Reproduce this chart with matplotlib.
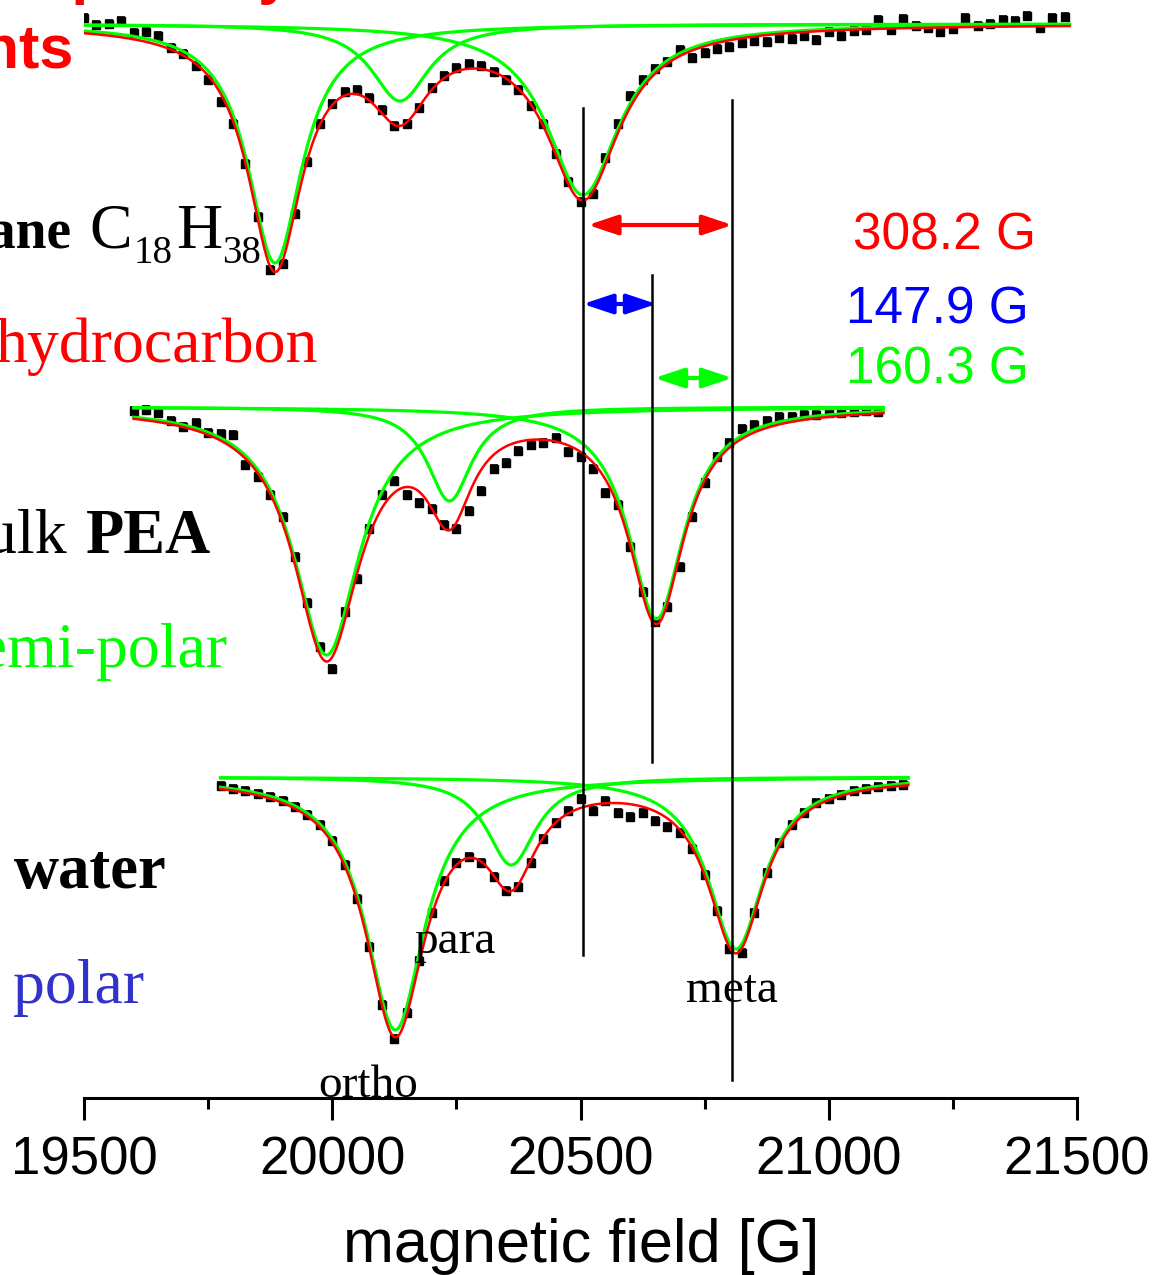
import numpy as np
import matplotlib
matplotlib.use('Agg')
import matplotlib.pyplot as plt
from matplotlib.ticker import MultipleLocator

plt.rcParams['font.family'] = ['Liberation Sans', 'DejaVu Sans']

# ---------------- data ----------------
# signal dip below baseline (arb. units), sampled every 25 G
hex_start = 19500
hex_dip = [-6, 1, 0, -3, 9, 8, 12, 24, 30, 42,
           56, 78, 100, 140, 193, 246, 240, 190, 138, 100,
           80, 68, 66, 74, 86, 102, 100, 84, 64, 52,
           44, 40, 42, 48, 56, 66, 82, 100, 130, 158,
           178, 170, 134, 100, 72, 56, 45, 38, 26, 34,
           29, 25, 23, 19, 17, 18, 14, 15, 12, 16,
           8, 12, 7, 6, -4, 6, -5, 2, 4, 8,
           5, -6, 2, 0, -4, -3, -8, 4, -6, -7]

pea_start = 19600
pea_dip = [4, 3, 6, 14, 20, 16, 26, 27, 28, 58,
           70, 88, 110, 150, 196, 240, 262, 205, 172, 122,
           88, 74, 88, 96, 102, 118, 122, 104, 84, 62,
           56, 44, 38, 36, 31, 45, 50, 62, 86, 98,
           140, 185, 215, 200, 160, 110, 76, 50, 36, 22,
           18, 14, 10, 10, 8, 8, 6, 6, 5, 4,
           5]

wat_start = 19775
wat_dip = [9, 12, 14, 17, 20, 24, 30, 38, 48, 64,
           88, 122, 170, 228, 262, 236, 184, 136, 104, 86,
           80, 86, 100, 114, 110, 86, 62, 46, 34, 22,
           34, 24, 36, 40, 36, 44, 50, 56, 72, 98,
           134, 172, 176, 136, 96, 66, 48, 36, 26, 22,
           18, 14, 12, 10, 9, 8]

step = 25
err = 4

# Lorentzian fit components: ortho, para, meta
hex_centers = [19884.7, 20136.5, 20505.0]
hex_depths = [239, 77, 171]
hex_hwhm = [66.5, 70.5, 88.6]

pea_centers = [19988.4, 20236.2, 20652.9]
pea_depths = [248, 94, 212]
pea_hwhm = [80.6, 54.4, 68.0]

wat_centers = [20127.0, 20360.6, 20813.2]
wat_depths = [253, 88, 172]
wat_hwhm = [72.5, 60.4, 68.5]

# baselines (vertical offsets of the three spectra)
baselines = [1074, 691, 321]

# reference lines at meta positions and splittings
line_fields = [20505, 20645, 20806]
line_spans = [(143, 990), (336, 823), (18, 998)]


def lorentz(b, c, depth, hwhm):
    return depth * hwhm ** 2 / ((b - c) ** 2 + hwhm ** 2)


fig = plt.figure(figsize=(11.67, 12.75), dpi=100)
W, H = 1167, 1275
ax = fig.add_axes([84 / W, 1 - 1098 / H, 993 / W, 1098 / H])


def fx(px):
    return px / W


def fy(py):
    return 1 - py / H


spectra = [
    (hex_start, hex_dip, hex_centers, hex_depths, hex_hwhm, baselines[0]),
    (pea_start, pea_dip, pea_centers, pea_depths, pea_hwhm, baselines[1]),
    (wat_start, wat_dip, wat_centers, wat_depths, wat_hwhm, baselines[2]),
]

for start, dip, cen, dep, hw, base in spectra:
    field = start + step * np.arange(len(dip))
    ax.errorbar(field, base - np.array(dip), yerr=err, fmt='s', color='k',
                ms=6.3, elinewidth=1.2, capsize=2.8, capthick=1.2, zorder=2)
    b = np.linspace(field[0], field[-1] + 10, 800)
    comps = [lorentz(b, c, a, w) for c, a, w in zip(cen, dep, hw)]
    for comp in comps:
        ax.plot(b, base - comp, color='#00ff00', lw=2.3, zorder=3)
    ax.plot(b, base - np.sum(comps, axis=0), color='#ff0000', lw=1.8, zorder=4)

for f, (y0, y1) in zip(line_fields, line_spans):
    ax.plot([f, f], [y0, y1], color='k', lw=1.8, zorder=5)

arrow_kw = dict(arrowstyle='<|-|>,head_length=1.8,head_width=0.6', lw=3,
                shrinkA=0, shrinkB=0)
ax.annotate('', xy=(line_fields[2], 873), xytext=(line_fields[0] + 10, 873),
            arrowprops=dict(color='#ff0000', **arrow_kw))
ax.annotate('', xy=(line_fields[1] + 8, 794), xytext=(line_fields[0], 794),
            arrowprops=dict(color='#0000ff', **arrow_kw))
ax.annotate('', xy=(line_fields[2], 720), xytext=(line_fields[1] + 4, 720),
            arrowprops=dict(color='#00ff00', **arrow_kw))

ax.set_xlim(19500, 21500)
ax.set_ylim(0, 1098)
for s in ['left', 'right', 'top']:
    ax.spines[s].set_visible(False)
ax.spines['bottom'].set_linewidth(2.2)
ax.set_yticks([])
ax.set_xticks([19500, 20000, 20500, 21000, 21500])
ax.xaxis.set_minor_locator(MultipleLocator(250))
ax.tick_params(axis='x', which='major', length=16, width=2.2, labelsize=38, pad=11)
ax.tick_params(axis='x', which='minor', length=8, width=2.2)

# right-hand splitting labels
fig.text(fx(853), fy(250), '308.2 G', color='#ff0000', fontsize=37, va='baseline')
fig.text(fx(846), fy(323), '147.9 G', color='#0000ff', fontsize=37, va='baseline')
fig.text(fx(846), fy(384), '160.3 G', color='#00ff00', fontsize=37, va='baseline')

# title (mostly cut off at the figure edge)
fig.text(fx(292), fy(-8), 'Sensitivity to polarity', color='#ff0000', fontsize=44,
         fontweight='bold', ha='right', va='baseline')
fig.text(fx(74), fy(68), 'environments', color='#ff0000', fontsize=44,
         fontweight='bold', ha='right', va='baseline')

serif = 'Liberation Serif'
fig.text(fx(72), fy(248), 'hexadecane', family=serif, fontweight='bold', fontsize=40,
         ha='right', va='baseline')
fig.text(fx(89), fy(248), 'C', family=serif, fontsize=46, va='baseline')
fig.text(fx(134), fy(263), '18', family=serif, fontsize=28, va='baseline')
fig.text(fx(176), fy(248), 'H', family=serif, fontsize=46, va='baseline')
fig.text(fx(222), fy(263), '38', family=serif, fontsize=28, va='baseline')
fig.text(fx(318), fy(362), 'hydrocarbon', family=serif, color='#ff0000', fontsize=46,
         ha='right', va='baseline')
fig.text(fx(67), fy(553), 'bulk', family=serif, fontsize=46, ha='right', va='baseline')
fig.text(fx(86), fy(553), 'PEA', family=serif, fontweight='bold', fontsize=45, va='baseline')
fig.text(fx(228), fy(667), 'semi-polar', family=serif, color='#00ff00', fontsize=46,
         ha='right', va='baseline')
fig.text(fx(14), fy(888), 'water', family=serif, fontweight='bold', fontsize=45, va='baseline')
fig.text(fx(13), fy(1003), 'polar', family=serif, color='#3333cc', fontsize=46, va='baseline')

fig.text(fx(414), fy(953), 'para', family=serif, fontsize=34, va='baseline')
fig.text(fx(686), fy(1002), 'meta', family=serif, fontsize=34, va='baseline')
fig.text(fx(318), fy(1097), 'ortho', family=serif, fontsize=34, va='baseline')

fig.text(fx(581), fy(1262), 'magnetic field [G]', fontsize=44, ha='center', va='baseline')

fig.savefig('out.png', dpi=100)
